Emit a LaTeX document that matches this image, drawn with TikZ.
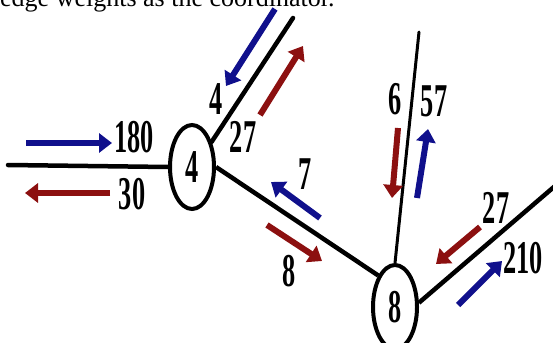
\documentclass[tikz,border=0pt]{standalone}
\usepackage{fontspec}
\usepackage{graphicx}
\setmainfont{Liberation Serif}
\usetikzlibrary{shapes.geometric,arrows.meta}
\definecolor{navy}{RGB}{16,16,140}
\definecolor{darkred}{RGB}{140,16,16}
\newcommand{\numtxt}[1]{\scalebox{0.56}[1]{\fontsize{47}{47}\selectfont\bfseries #1}}
\tikzset{
  vert/.style={ellipse, draw, line width=4pt, inner sep=0pt, minimum width=44pt, minimum height=84pt, font=\fontsize{47}{47}\selectfont\bfseries},
  edge/.style={line width=4.5pt},
  thinedge/.style={line width=3pt},
  flow/.style={line width=6pt, -{Triangle[length=13pt,width=19pt]}},
  bluef/.style={flow, navy},
  redf/.style={flow, darkred},
  lbl/.style={inner sep=0pt}
}
\begin{document}
\begin{tikzpicture}[x=1pt,y=-1pt]
\useasboundingbox (0,0) rectangle (553,342);
\begin{scope}
\clip (0,0) rectangle (553,342);
\node[anchor=base west, inner sep=0pt, font=\fontsize{26}{26}\selectfont] (cap) at (0,7) {edge weights as the coordinator.};
\node[vert] (n4) at (192,167) {\scalebox{0.56}[1]{4}};
\node[vert] (n8) at (395,307) {\scalebox{0.56}[1]{8}};
\coordinate (L) at (8,165);
\coordinate (U) at (293,18);
\coordinate (V) at (419,32);
\coordinate (R) at (562,180);
\draw[edge, line cap=round] (L) -- (n4.west);
\draw[edge, line cap=round] (n4.52) -- (U);
\draw[edge] (n4.east) -- (n8.118);
\draw[thinedge, line cap=round] (n8.north) -- (V);
\draw[edge] (n8.10) -- (R);
% flow arrows
\coordinate (a1s) at (26,143); \coordinate (a1e) at (112,143);
\coordinate (a2s) at (110,193); \coordinate (a2e) at (25,193);
\coordinate (a3s) at (275,9); \coordinate (a3e) at (226,86);
\coordinate (a4s) at (260,115); \coordinate (a4e) at (303,46);
\coordinate (a5s) at (320,218); \coordinate (a5e) at (271,182);
\coordinate (a6s) at (267,225); \coordinate (a6e) at (322,261);
\coordinate (a7s) at (398,128); \coordinate (a7e) at (392,198);
\coordinate (a8s) at (417,198); \coordinate (a8e) at (428,129);
\coordinate (a9s) at (480,227); \coordinate (a9e) at (436,264);
\coordinate (a10s) at (458,305); \coordinate (a10e) at (502,261);
\draw[bluef] (a1s) -- (a1e);
\draw[redf] (a2s) -- (a2e);
\draw[bluef] (a3s) -- (a3e);
\draw[redf] (a4s) -- (a4e);
\draw[bluef] (a5s) -- (a5e);
\draw[redf] (a6s) -- (a6e);
\draw[redf] (a7s) -- (a7e);
\draw[bluef] (a8s) -- (a8e);
\draw[redf] (a9s) -- (a9e);
\draw[bluef] (a10s) -- (a10e);
% labels
\node[lbl] (t180) at (134,137) {\numtxt{180}};
\node[lbl] (t30) at (132,194) {\numtxt{30}};
\node[lbl] (t4) at (216,99) {\numtxt{4}};
\node[lbl] (t27a) at (243,137) {\numtxt{27}};
\node[lbl] (t7) at (305,174) {\numtxt{7}};
\node[lbl] (t8) at (289,271) {\numtxt{8}};
\node[lbl] (t6) at (395,99) {\numtxt{6}};
\node[lbl] (t57) at (434,101) {\numtxt{57}};
\node[lbl] (t27b) at (496,208) {\numtxt{27}};
\node[lbl] (t210) at (523,258) {\numtxt{210}};
\end{scope}
\end{tikzpicture}
\end{document}
